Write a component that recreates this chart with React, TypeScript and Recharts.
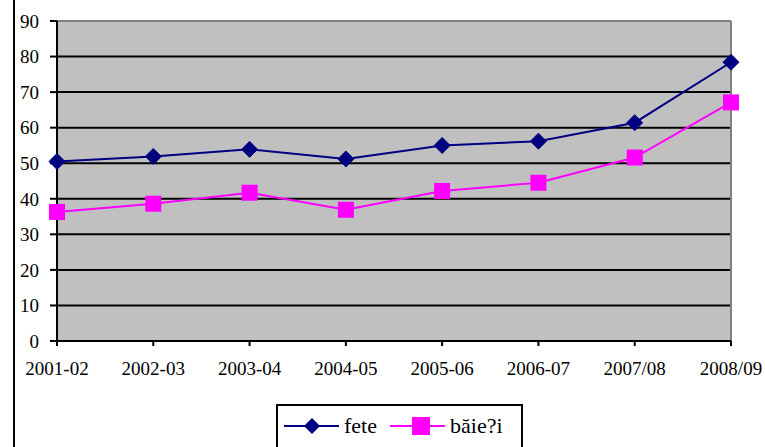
import React from 'react';
import { LineChart, Line, XAxis, YAxis, CartesianGrid, ReferenceLine } from 'recharts';

const categories = ['2001-02', '2002-03', '2003-04', '2004-05', '2005-06', '2006-07', '2007/08', '2008/09'];
const fete = [50.5, 51.9, 53.9, 51.2, 55.0, 56.2, 61.4, 78.4];
const baieti = [36.3, 38.6, 41.7, 36.9, 42.2, 44.5, 51.6, 67.1];
const yTicks = [0, 10, 20, 30, 40, 50, 60, 70, 80, 90];
const seriesNames = ['fete', 'băie?i'];

const data = categories.map((c, i) => ({ cat: c, fete: fete[i], baieti: baieti[i] }));

const NAVY = '#000080';
const MAGENTA = '#FF00FF';
const FONT = "'Liberation Serif'";

const Diamond = (props: any) => {
  const { cx, cy, index } = props;
  if (cx == null || cy == null) return <g key={`d${index}`} />;
  const r = 8;
  return (
    <path
      key={`d${index}`}
      d={`M${cx},${cy - r} L${cx + r},${cy} L${cx},${cy + r} L${cx - r},${cy} Z`}
      fill={NAVY}
      stroke={NAVY}
      strokeWidth={1}
    />
  );
};

const Square = (props: any) => {
  const { cx, cy, index } = props;
  if (cx == null || cy == null) return <g key={`s${index}`} />;
  const h = 8;
  return <rect key={`s${index}`} x={cx - h} y={cy - h} width={2 * h} height={2 * h} fill={MAGENTA} />;
};

export default function App() {
  return (
    <div style={{ position: 'absolute', left: 0, top: 0, width: 765, height: 447, overflow: 'hidden', background: '#fff' }}>
      <LineChart
        width={765}
        height={447}
        data={data}
        margin={{ top: 21, right: 34, left: 0, bottom: 66 }}
      >
        <CartesianGrid
          vertical={false}
          horizontal={true}
          stroke="#000"
          strokeWidth={2}
          fill="#C0C0C0"
          fillOpacity={1}
        />
        <XAxis
          dataKey="cat"
          interval={0}
          height={40}
          axisLine={{ stroke: '#000', strokeWidth: 2 }}
          tickLine={{ stroke: '#000', strokeWidth: 2 }}
          tickSize={5}
          tickMargin={16}
          tick={{ fill: '#000', fontSize: 19, style: { fontFamily: FONT } }}
        />
        <YAxis
          width={57}
          domain={[0, 90]}
          ticks={yTicks}
          interval={0}
          axisLine={{ stroke: '#000', strokeWidth: 2 }}
          tickLine={{ stroke: '#000', strokeWidth: 2 }}
          tickSize={7}
          tickMargin={11}
          tick={{ fill: '#000', fontSize: 19, style: { fontFamily: FONT } }}
        />
        <ReferenceLine y={90} stroke="#808080" strokeWidth={2} />
        <ReferenceLine x={categories[categories.length - 1]} stroke="#808080" strokeWidth={2} />
        <Line
          type="linear"
          dataKey="fete"
          name={seriesNames[0]}
          stroke={NAVY}
          strokeWidth={2}
          dot={Diamond}
          activeDot={false}
          isAnimationActive={false}
        />
        <Line
          type="linear"
          dataKey="baieti"
          name={seriesNames[1]}
          stroke={MAGENTA}
          strokeWidth={2}
          dot={Square}
          activeDot={false}
          isAnimationActive={false}
        />
      </LineChart>
      <svg
        width={765}
        height={447}
        style={{ position: 'absolute', left: 0, top: 0, pointerEvents: 'none' }}
      >
        <line x1={14} y1={0} x2={14} y2={447} stroke="#000" strokeWidth={2} />
        <rect x={277} y={405} width={245} height={60} fill="#fff" stroke="#000" strokeWidth={2} />
        <line x1={284} y1={426} x2={339} y2={426} stroke={NAVY} strokeWidth={2} />
        <path d="M312,418 L320,426 L312,434 L304,426 Z" fill={NAVY} />
        <text x={344} y={433} style={{ fontFamily: FONT }} fontSize={22} fill="#000">{seriesNames[0]}</text>
        <line x1={390} y1={426} x2={445} y2={426} stroke={MAGENTA} strokeWidth={2} />
        <rect x={412} y={417} width={18} height={18} fill={MAGENTA} />
        <text x={450} y={433} style={{ fontFamily: FONT }} fontSize={22} fill="#000">{seriesNames[1]}</text>
      </svg>
    </div>
  );
}
